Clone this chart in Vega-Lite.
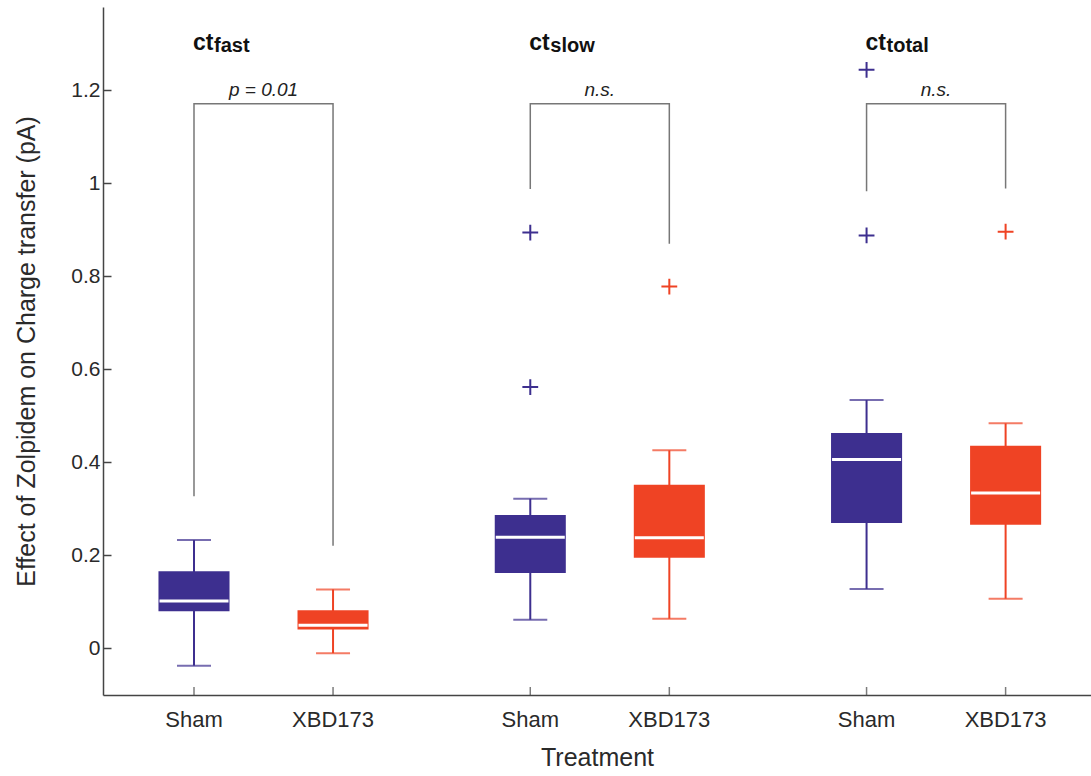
{
  "$schema": "https://vega.github.io/schema/vega-lite/v6.json",
  "width": 988,
  "height": 688,
  "autosize": {"type": "none"},
  "padding": {"left": 103, "top": 7, "right": 0, "bottom": 81},
  "config": {
    "font": "Liberation Sans",
    "view": {"stroke": null},
    "axis": {
      "domainColor": "#444444",
      "domainWidth": 1.5,
      "tickColor": "#444444",
      "tickWidth": 1.5,
      "labelColor": "#2a2a2a",
      "titleColor": "#2a2a2a",
      "labelFont": "Liberation Sans",
      "titleFont": "Liberation Sans",
      "titleFontWeight": "normal",
      "grid": false
    }
  },
  "datasets": {
    "boxes": [
      {"measure": "fast", "treatment": "Sham", "lower": -0.037, "q1": 0.080, "median": 0.102, "q3": 0.166, "upper": 0.233},
      {"measure": "fast", "treatment": "XBD173", "lower": -0.010, "q1": 0.041, "median": 0.050, "q3": 0.082, "upper": 0.127},
      {"measure": "slow", "treatment": "Sham", "lower": 0.062, "q1": 0.162, "median": 0.239, "q3": 0.287, "upper": 0.322},
      {"measure": "slow", "treatment": "XBD173", "lower": 0.064, "q1": 0.195, "median": 0.238, "q3": 0.352, "upper": 0.426},
      {"measure": "total", "treatment": "Sham", "lower": 0.128, "q1": 0.270, "median": 0.406, "q3": 0.463, "upper": 0.534},
      {"measure": "total", "treatment": "XBD173", "lower": 0.107, "q1": 0.266, "median": 0.334, "q3": 0.436, "upper": 0.484}
    ],
    "outliers": [
      {"measure": "slow", "treatment": "Sham", "value": 0.894},
      {"measure": "slow", "treatment": "Sham", "value": 0.562},
      {"measure": "slow", "treatment": "XBD173", "value": 0.778},
      {"measure": "total", "treatment": "Sham", "value": 1.244},
      {"measure": "total", "treatment": "Sham", "value": 0.888},
      {"measure": "total", "treatment": "XBD173", "value": 0.896}
    ],
    "brackets": [
      {"measure": "fast", "treatment": "Sham", "step": 0, "y": 0.327},
      {"measure": "fast", "treatment": "Sham", "step": 1, "y": 1.171},
      {"measure": "fast", "treatment": "XBD173", "step": 2, "y": 1.171},
      {"measure": "fast", "treatment": "XBD173", "step": 3, "y": 0.221},
      {"measure": "slow", "treatment": "Sham", "step": 0, "y": 0.988},
      {"measure": "slow", "treatment": "Sham", "step": 1, "y": 1.171},
      {"measure": "slow", "treatment": "XBD173", "step": 2, "y": 1.171},
      {"measure": "slow", "treatment": "XBD173", "step": 3, "y": 0.870},
      {"measure": "total", "treatment": "Sham", "step": 0, "y": 0.983},
      {"measure": "total", "treatment": "Sham", "step": 1, "y": 1.171},
      {"measure": "total", "treatment": "XBD173", "step": 2, "y": 1.171},
      {"measure": "total", "treatment": "XBD173", "step": 3, "y": 0.989}
    ],
    "notes": [
      {"measure": "fast", "treatment": "Sham", "stat": "p = 0.01", "statY": 1.187, "titleY": 1.287},
      {"measure": "slow", "treatment": "Sham", "stat": "n.s.", "statY": 1.187, "titleY": 1.287},
      {"measure": "total", "treatment": "Sham", "stat": "n.s.", "statY": 1.187, "titleY": 1.287}
    ]
  },
  "layer": [
    {
      "description": "top frame line",
      "mark": {"type": "rule", "color": "#444444", "strokeWidth": 1.5},
      "encoding": {"y": {"datum": 1.379, "type": "quantitative"}}
    },
    {
      "description": "zero reference line",
      "mark": {"type": "rule", "color": "#444444", "strokeWidth": 1.3, "strokeDash": [3, 5]},
      "encoding": {"y": {"datum": 0, "type": "quantitative"}}
    },
    {
      "data": {"name": "boxes"},
      "mark": {"type": "rule", "strokeWidth": 2},
      "encoding": {
        "x": {
          "field": "measure", "type": "nominal",
          "scale": {"type": "band", "paddingInner": 0.3, "paddingOuter": 0.119, "align": 0.535},
          "axis": {"labels": false, "ticks": false, "title": "Treatment", "titleFontSize": 25, "titlePadding": 50}
        },
        "xOffset": {"field": "treatment", "type": "nominal", "scale": {"paddingInner": 0.489, "paddingOuter": 0.091}},
        "y": {
          "field": "lower", "type": "quantitative",
          "scale": {"domain": [-0.1, 1.379], "nice": false, "zero": false},
          "axis": {
            "values": [0, 0.2, 0.4, 0.6, 0.8, 1, 1.2],
            "format": "~g",
            "tickSize": -8,
            "labelPadding": 11,
            "labelFontSize": 21,
            "title": "Effect of Zolpidem on Charge transfer (pA)",
            "titleFontSize": 25,
            "titlePadding": 31
          }
        },
        "y2": {"field": "upper"},
        "color": {"field": "treatment", "type": "nominal", "scale": {"domain": ["Sham", "XBD173"], "range": ["#3d2f8f", "#ef4324"]}, "legend": null}
      }
    },
    {
      "data": {"name": "boxes"},
      "mark": {"type": "tick", "size": 34, "thickness": 2},
      "encoding": {
        "x": {"field": "measure", "type": "nominal"},
        "xOffset": {"field": "treatment", "type": "nominal"},
        "y": {"field": "upper", "type": "quantitative"},
        "color": {"field": "treatment", "type": "nominal"}
      }
    },
    {
      "data": {"name": "boxes"},
      "mark": {"type": "tick", "size": 34, "thickness": 2},
      "encoding": {
        "x": {"field": "measure", "type": "nominal"},
        "xOffset": {"field": "treatment", "type": "nominal"},
        "y": {"field": "lower", "type": "quantitative"},
        "color": {"field": "treatment", "type": "nominal"}
      }
    },
    {
      "data": {"name": "boxes"},
      "mark": {"type": "bar", "opacity": 1},
      "encoding": {
        "x": {"field": "measure", "type": "nominal"},
        "xOffset": {"field": "treatment", "type": "nominal"},
        "y": {"field": "q1", "type": "quantitative"},
        "y2": {"field": "q3"},
        "color": {"field": "treatment", "type": "nominal"}
      }
    },
    {
      "data": {"name": "boxes"},
      "mark": {"type": "tick", "size": 69, "thickness": 3, "color": "white", "opacity": 1},
      "encoding": {
        "x": {"field": "measure", "type": "nominal"},
        "xOffset": {"field": "treatment", "type": "nominal"},
        "y": {"field": "median", "type": "quantitative"}
      }
    },
    {
      "data": {"name": "outliers"},
      "mark": {"type": "point", "shape": "M-1,0H1M0,-1V1", "size": 250, "strokeWidth": 2, "filled": false, "opacity": 1},
      "encoding": {
        "x": {"field": "measure", "type": "nominal"},
        "xOffset": {"field": "treatment", "type": "nominal"},
        "y": {"field": "value", "type": "quantitative"},
        "color": {"field": "treatment", "type": "nominal"}
      }
    },
    {
      "data": {"name": "brackets"},
      "mark": {"type": "line", "color": "#777777", "strokeWidth": 1.5},
      "encoding": {
        "x": {"field": "measure", "type": "nominal"},
        "xOffset": {"field": "treatment", "type": "nominal"},
        "y": {"field": "y", "type": "quantitative"},
        "detail": {"field": "measure"},
        "order": {"field": "step", "type": "quantitative"}
      }
    },
    {
      "data": {"name": "notes"},
      "mark": {"type": "text", "fontSize": 19, "fontStyle": "italic", "color": "#222222", "baseline": "alphabetic", "align": "center"},
      "encoding": {
        "x": {"field": "measure", "type": "nominal"},
        "y": {"field": "statY", "type": "quantitative"},
        "text": {"field": "stat"}
      }
    },
    {
      "data": {"name": "notes"},
      "mark": {"type": "text", "fontSize": 23, "fontWeight": "bold", "color": "#111111", "baseline": "alphabetic", "align": "left", "dx": -1},
      "encoding": {
        "x": {"field": "measure", "type": "nominal"},
        "xOffset": {"field": "treatment", "type": "nominal"},
        "y": {"field": "titleY", "type": "quantitative"},
        "text": {"value": "ct"}
      }
    },
    {
      "data": {"name": "notes"},
      "mark": {"type": "text", "fontSize": 20, "fontWeight": "bold", "color": "#111111", "baseline": "alphabetic", "align": "left", "dx": 20, "dy": 2},
      "encoding": {
        "x": {"field": "measure", "type": "nominal"},
        "xOffset": {"field": "treatment", "type": "nominal"},
        "y": {"field": "titleY", "type": "quantitative"},
        "text": {"field": "measure"}
      }
    },
    {
      "data": {"name": "boxes"},
      "mark": {"type": "tick", "orient": "vertical", "size": 8, "thickness": 1.5, "color": "#444444", "yOffset": -4},
      "encoding": {
        "x": {"field": "measure", "type": "nominal"},
        "xOffset": {"field": "treatment", "type": "nominal"},
        "y": {"datum": -0.1, "type": "quantitative"}
      }
    },
    {
      "data": {"name": "boxes"},
      "mark": {"type": "text", "fontSize": 22, "color": "#2a2a2a", "baseline": "top", "align": "center", "dy": 15},
      "encoding": {
        "x": {"field": "measure", "type": "nominal"},
        "xOffset": {"field": "treatment", "type": "nominal"},
        "y": {"datum": -0.1, "type": "quantitative"},
        "text": {"field": "treatment"}
      }
    }
  ]
}
